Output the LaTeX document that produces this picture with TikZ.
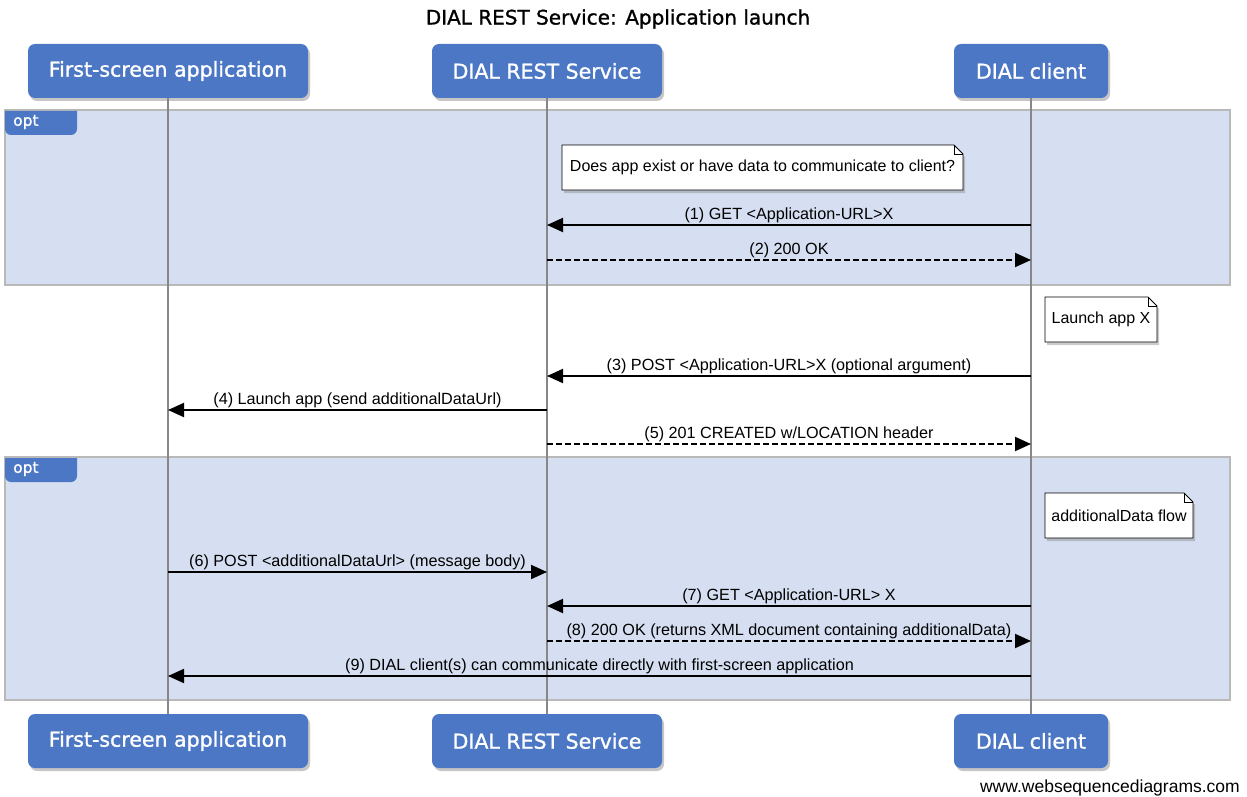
\documentclass[tikz,border=0pt]{standalone}
\usepackage{fontspec}
\setmainfont{Liberation Sans}
\newfontfamily\verdana{DejaVu Sans}
\newfontfamily\verdanab[FakeBold=1.2]{DejaVu Sans}
\usetikzlibrary{arrows.meta,shadows}
\definecolor{actorblue}{RGB}{76,119,196}
\definecolor{optfill}{RGB}{214,223,241}
\definecolor{optline}{RGB}{185,185,185}
\definecolor{lifegray}{RGB}{135,135,135}
\newcommand\notebox[6]{%
  \filldraw[notestyle] (#1,#2) -- (#3-9,#2) -- (#3,#2+9) -- (#3,#4) -- (#1,#4) -- cycle;
  \draw[line width=0.8pt] (#3-9,#2) -- (#3-9,#2+9) -- (#3,#2+9);
  \node[notetext] (#5) at ({(#1+#3)/2},{(#2+#4)/2}) {#6};}
\newcommand\opttab[2]{%
  \fill[actorblue] (#1,#2) -- (#1+72,#2) {[rounded corners=6pt] -- (#1+72,#2+24) -- (#1,#2+24)} -- cycle;
  \node[opttext] at (#1+8,#2+11) {opt};}
\begin{document}
\begin{tikzpicture}[x=1pt,y=-1pt,
    actor/.style={fill=actorblue,rounded corners=7pt,minimum height=54pt,inner xsep=0pt,
      text=white,font=\verdanab\fontsize{20.5}{24}\selectfont,
      drop shadow={shadow xshift=2pt,shadow yshift=-3pt,opacity=0.45}},
    optframe/.style={fill=optfill,draw=optline,line width=1.5pt},
    opttext/.style={anchor=west,text=white,inner sep=0pt,font=\verdanab\fontsize{15.5}{18}\selectfont},
    life/.style={draw=lifegray,line width=1.5pt},
    notestyle/.style={fill=white,draw=black,line width=0.8pt,
      drop shadow={shadow xshift=2pt,shadow yshift=-3pt,opacity=0.4}},
    notetext/.style={inner sep=0pt,font=\fontsize{16}{18}\selectfont},
    msg/.style={line width=2pt,-{Triangle[length=16pt,width=14pt]}},
    reply/.style={msg,dash pattern=on 6pt off 3pt},
    lbl/.style={above,inner sep=1pt,font=\fontsize{16.2}{18}\selectfont}]
  \useasboundingbox (0,0) rectangle (1247,797);
  \node[font=\verdanab\fontsize{20}{24}\selectfont] (title) at (618,19)
    {DIAL REST Service: Application launch};
  \draw[optframe] (5,110) rectangle (1230,285);
  \draw[optframe] (5,457) rectangle (1230,700);
  \opttab{5}{111}
  \opttab{5}{458}
  \draw
    (168,71) node[actor,minimum width=280pt] (fs){First-screen application}
    (547,71) node[actor,minimum width=230pt] (rs){DIAL REST Service}
    (1031,71) node[actor,minimum width=154pt] (dc){DIAL client}
    (168,741) node[actor,minimum width=280pt] (fsb){First-screen application}
    (547,741) node[actor,minimum width=230pt] (rsb){DIAL REST Service}
    (1031,741) node[actor,minimum width=154pt] (dcb){DIAL client};
  \begin{scope}[life]
    \draw (fs.south) to (fsb.north);
    \draw (rs.south) to (rsb.north);
    \draw (dc.south) to (dcb.north);
  \end{scope}
  \notebox{562}{145}{963}{190}{n1}{Does app exist or have data to communicate to client?}
  \notebox{1045}{297}{1157}{342}{n2}{Launch app X}
  \notebox{1045}{493}{1193}{538}{n3}{additionalData flow}
  \path
    (547,225) coordinate (rs1) (1031,225) coordinate (dc1)
    (547,260) coordinate (rs2) (1031,260) coordinate (dc2)
    (547,376) coordinate (rs3) (1031,376) coordinate (dc3)
    (168,410) coordinate (fs4) (547,410) coordinate (rs4)
    (547,444) coordinate (rs5) (1031,444) coordinate (dc5)
    (168,572) coordinate (fs6) (547,572) coordinate (rs6)
    (547,606) coordinate (rs7) (1031,606) coordinate (dc7)
    (547,641) coordinate (rs8) (1031,641) coordinate (dc8)
    (168,676) coordinate (fs9) (1031,676) coordinate (dc9);
  \draw[msg] (dc1) to node[lbl]{(1) GET <Application-URL>X} (rs1);
  \draw[reply] (rs2) to node[lbl]{(2) 200 OK} (dc2);
  \draw[msg] (dc3) to node[lbl]{(3) POST <Application-URL>X (optional argument)} (rs3);
  \draw[msg] (rs4) to node[lbl]{(4) Launch app (send additionalDataUrl)} (fs4);
  \draw[reply] (rs5) to node[lbl]{(5) 201 CREATED w/LOCATION header} (dc5);
  \draw[msg] (fs6) to node[lbl]{(6) POST <additionalDataUrl> (message body)} (rs6);
  \draw[msg] (dc7) to node[lbl]{(7) GET <Application-URL> X} (rs7);
  \draw[reply] (rs8) to node[lbl]{(8) 200 OK (returns XML document containing additionalData)} (dc8);
  \draw[msg] (dc9) to node[lbl]{(9) DIAL client(s) can communicate directly with first-screen application} (fs9);
  \node[anchor=base east,inner sep=0pt,font=\fontsize{17.5}{20}\selectfont] (site) at (1240,792)
    {www.websequencediagrams.com};
\end{tikzpicture}
\end{document}
